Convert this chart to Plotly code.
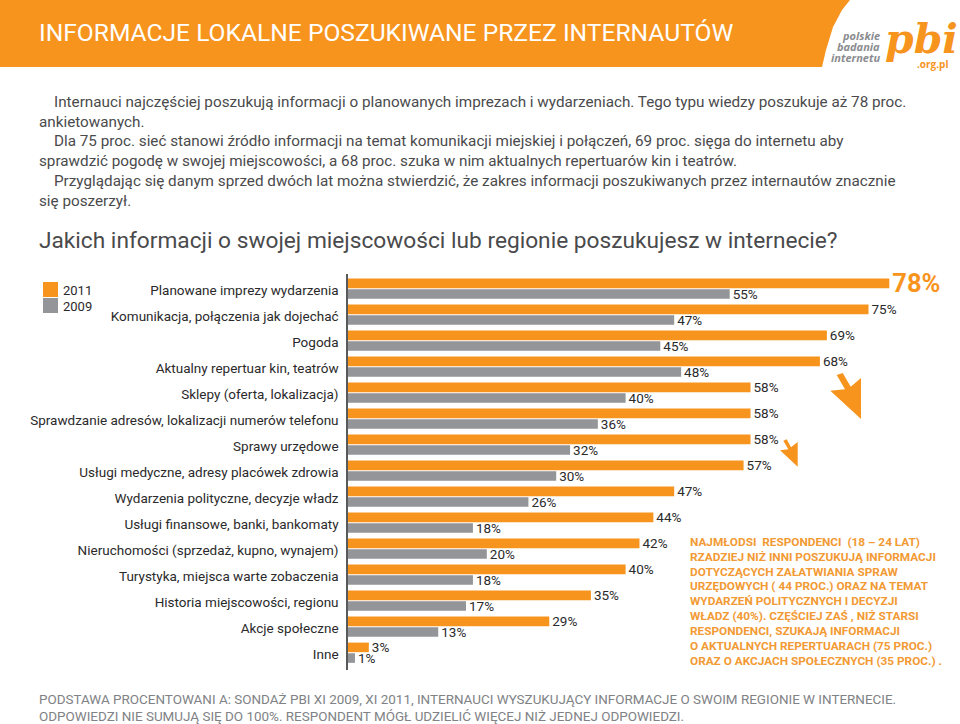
import plotly.graph_objects as go

W = 960
H = 724
ORANGE = '#F7941E'
GRAY = '#939598'
DARK = '#2b2a2b'
BODY = '#4a4a4c'
FOOT = '#808285'
FONT = 'Roboto'

categories = [
    'Planowane imprezy wydarzenia',
    'Komunikacja, połączenia jak dojechać',
    'Pogoda',
    'Aktualny repertuar kin, teatrów',
    'Sklepy (oferta, lokalizacja)',
    'Sprawdzanie adresów, lokalizacji numerów telefonu',
    'Sprawy urzędowe',
    'Usługi medyczne, adresy placówek zdrowia',
    'Wydarzenia polityczne, decyzje władz',
    'Usługi finansowe, banki, bankomaty',
    'Nieruchomości (sprzedaż, kupno, wynajem)',
    'Turystyka, miejsca warte zobaczenia',
    'Historia miejscowości, regionu',
    'Akcje społeczne',
    'Inne',
]
values_2011 = [78, 75, 69, 68, 58, 58, 58, 57, 47, 44, 42, 40, 35, 29, 3]
values_2009 = [55, 47, 45, 48, 40, 36, 32, 30, 26, 18, 20, 18, 17, 13, 1]

title = 'INFORMACJE LOKALNE POSZUKIWANE PRZEZ INTERNAUTÓW'
question = 'Jakich informacji o swojej miejscowości lub regionie poszukujesz w internecie?'
intro_lines = [
    'Internauci najczęściej poszukują informacji o planowanych imprezach i wydarzeniach. Tego typu wiedzy poszukuje aż 78 proc.',
    'ankietowanych.',
    'Dla 75 proc. sieć stanowi źródło informacji na temat komunikacji miejskiej i połączeń, 69 proc. sięga do internetu aby',
    'sprawdzić pogodę w swojej miejscowości, a 68 proc. szuka w nim aktualnych repertuarów kin i teatrów.',
    'Przyglądając się danym sprzed dwóch lat można stwierdzić, że zakres informacji poszukiwanych przez internautów znacznie',
    'się poszerzył.',
]
note_lines = [
    'NAJMŁODSI  RESPONDENCI  (18 – 24 LAT)',
    'RZADZIEJ NIŻ INNI POSZUKUJĄ INFORMACJI',
    'DOTYCZĄCYCH ZAŁATWIANIA SPRAW',
    'URZĘDOWYCH ( 44 PROC.) ORAZ NA TEMAT',
    'WYDARZEŃ POLITYCZNYCH I DECYZJI',
    'WŁADZ (40%). CZĘŚCIEJ ZAŚ , NIŻ STARSI',
    'RESPONDENCI, SZUKAJĄ INFORMACJI',
    'O AKTUALNYCH REPERTUARACH (75 PROC.)',
    'ORAZ O AKCJACH SPOŁECZNYCH (35 PROC.) .',
]
footer_lines = [
    'PODSTAWA PROCENTOWANI A: SONDAŻ PBI XI 2009, XI 2011, INTERNAUCI WYSZUKUJĄCY INFORMACJE O SWOIM REGIONIE W INTERNECIE.',
    'ODPOWIEDZI NIE SUMUJĄ SIĘ DO 100%. RESPONDENT MÓGŁ UDZIELIĆ WIĘCEJ NIŻ JEDNEJ ODPOWIEDZI.',
]


def px(x):
    return x / W


def py(y):
    return 1 - y / H


def label(text, x, y, size, color=DARK, anchor='left', family=FONT):
    # annotations sit about 2px inside their anchor
    if anchor == 'left':
        x -= 2
    return dict(text=text, x=px(x), y=py(y), xref='paper', yref='paper',
                xanchor=anchor, yanchor='middle', showarrow=False,
                font=dict(size=size, color=color, family=family))


def polygon(points, color):
    path = 'M' + ' L'.join(f'{px(x)},{py(y)}' for x, y in points) + ' Z'
    return dict(type='path', path=path, xref='paper', yref='paper',
                fillcolor=color, line=dict(width=0), layer='below')


def swatch(y0, y1, color):
    return dict(type='rect', x0=px(43), x1=px(58), y0=py(y0), y1=py(y1),
                xref='paper', yref='paper', fillcolor=color, line=dict(width=0))


labels_2011 = [f'{v}%' for v in values_2011]
labels_2011[0] = f'<b>{labels_2011[0]}</b>'

bar_2011 = go.Bar(
    name='2011', y=categories, x=values_2011, orientation='h',
    marker=dict(color=ORANGE, line=dict(width=0)),
    text=labels_2011, textposition='outside',
    constraintext='none',
    textfont=dict(family=FONT, color=[ORANGE] + [DARK] * 14,
                  size=[25.5] + [13.5] * 14),
    cliponaxis=False,
)
bar_2009 = go.Bar(
    name='2009', y=categories, x=values_2009, orientation='h',
    marker=dict(color=GRAY, line=dict(width=0)),
    text=[f'{v}%' for v in values_2009], textposition='outside',
    constraintext='none',
    textfont=dict(family=FONT, color=DARK, size=13.5),
    cliponaxis=False,
)

fig = go.Figure(data=[bar_2011, bar_2009])

annotations = [label(title, 39, 32, 24.6, 'white')]
annotations += [label(t, 882, y, 11, '#8a8c8f', 'right', 'Open Sans')
                for t, y in zip(['<b><i>polskie</i></b>', '<b><i>badania</i></b>', '<b><i>internetu</i></b>'], [36, 47, 58])]
annotations.append(label('<b><i>pbi</i></b>', 960, 39, 41, ORANGE, 'right', 'DejaVu Serif'))
annotations.append(label('<b>.org.pl</b>', 950, 64, 10, ORANGE, 'right', 'Open Sans'))

intro_y = [102, 122, 141, 161, 181, 201]
intro_x = [54, 39, 54, 39, 54, 39]
annotations += [label(t, x, y, 15.25, BODY) for t, x, y in zip(intro_lines, intro_x, intro_y)]
annotations.append(label(question, 39, 240, 22.7, BODY))

annotations.append(label('2011', 63, 290, 13, DARK))
annotations.append(label('2009', 63, 306, 13, DARK))

note_y = [541.7, 556.7, 571.7, 586, 601, 616, 630.7, 645.7, 660.7]
annotations += [label(f'<b>{t}</b>', 690, y, 11.8, '#F29A34') for t, y in zip(note_lines, note_y)]

annotations.append(label(footer_lines[0], 39, 699, 13.45, FOOT))
annotations.append(label(footer_lines[1], 39, 716, 13.45, FOOT))

shapes = [
    polygon([(0, 0), (850, 0), (842, 10), (833, 27), (826, 50), (822, 67), (0, 67)], ORANGE),
    polygon([(836.7, 375), (842.7, 373), (850.7, 386.7), (861, 378), (861, 419),
             (830.3, 390.7), (845, 389.3)], ORANGE),
    polygon([(783.3, 440.7), (786.7, 439.3), (791, 447.3), (797.7, 442), (797.7, 466.7),
             (780, 450.3), (788.3, 449.3)], ORANGE),
    swatch(282, 297, ORANGE),
    swatch(298, 313, GRAY),
]

fig.update_layout(
    width=W, height=H,
    margin=dict(l=0, r=0, t=0, b=0),
    paper_bgcolor='white', plot_bgcolor='rgba(0,0,0,0)',
    barmode='group', bargap=0.18, bargroupgap=0.1,
    showlegend=False,
    annotations=annotations,
    shapes=shapes,
    font=dict(family=FONT),
    xaxis=dict(domain=[348 / W, 1], range=[0, 612 / 6.94], visible=False),
    yaxis=dict(
        domain=[1 - 670 / H, 1 - 274 / H],
        type='category', categoryorder='array', categoryarray=categories,
        range=[14.665, -0.565],
        showline=True, linecolor='#58595b', linewidth=1.5,
        showgrid=False, zeroline=False,
        ticks='outside', ticklen=5, tickcolor='rgba(0,0,0,0)',
        ticklabelshift=-2,
        tickfont=dict(size=13.5, color=DARK, family=FONT),
    ),
)

# the page's default body margin would push the whole picture down and right
fig.write_html("out.html", post_script="document.body.style.margin = '0';",
               config=dict(displayModeBar=False))
